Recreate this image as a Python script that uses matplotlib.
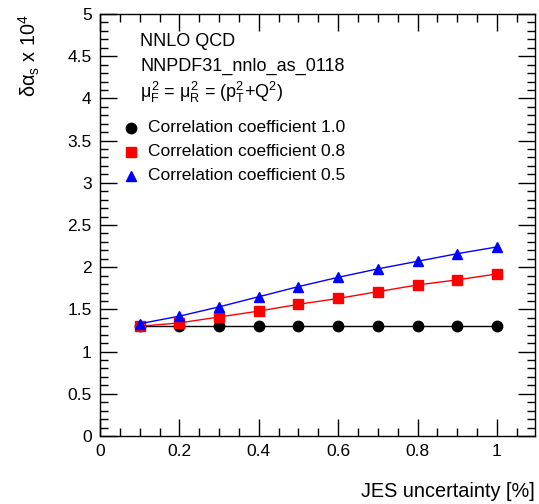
import matplotlib
matplotlib.use("Agg")
import matplotlib.pyplot as plt
from matplotlib.ticker import MultipleLocator

plt.rcParams['font.family'] = ['Liberation Sans', 'DejaVu Sans']
plt.rcParams['mathtext.fontset'] = 'custom'
plt.rcParams['mathtext.rm'] = 'Liberation Sans'
plt.rcParams['mathtext.it'] = 'Liberation Sans'
plt.rcParams['mathtext.bf'] = 'Liberation Sans:bold'

jes = [0.1, 0.2, 0.3, 0.4, 0.5, 0.6, 0.7, 0.8, 0.9, 1.0]
corr_10 = [1.30, 1.30, 1.30, 1.30, 1.30, 1.30, 1.30, 1.30, 1.30, 1.30]
corr_08 = [1.30, 1.34, 1.41, 1.48, 1.56, 1.63, 1.71, 1.79, 1.85, 1.92]
corr_05 = [1.33, 1.42, 1.53, 1.65, 1.77, 1.88, 1.98, 2.07, 2.16, 2.24]
labels = ["Correlation coefficient 1.0", "Correlation coefficient 0.8", "Correlation coefficient 0.5"]

fig = plt.figure(figsize=(5.39, 5.04), dpi=100)
ax = fig.add_axes([100/539, (504-436)/504, (535-100)/539, (436-14)/504])

fs = 12.5
fs_txt = 13
fs_leg = 12.5
fs_lab = 14.3
ax.plot(jes, corr_10, color='black', lw=1, marker='o', ms=7.5, mec='black', mfc='black')
ax.plot(jes, corr_08, color='red', lw=1, marker='s', ms=7, mec='red', mfc='red')
ax.plot(jes, corr_05, color='blue', lw=1, marker='^', ms=7.5, mec='blue', mfc='blue')

ax.set_xlim(0, 1.096)
ax.set_ylim(0, 5)
ax.xaxis.set_major_locator(MultipleLocator(0.2))
ax.xaxis.set_minor_locator(MultipleLocator(0.05))
ax.yaxis.set_major_locator(MultipleLocator(0.5))
ax.yaxis.set_minor_locator(MultipleLocator(0.1))
ax.set_xticks([0, 0.2, 0.4, 0.6, 0.8, 1.0])
ax.set_xticklabels(["0", "0.2", "0.4", "0.6", "0.8", "1"])
ax.set_yticks([0, 0.5, 1, 1.5, 2, 2.5, 3, 3.5, 4, 4.5, 5])
ax.set_yticklabels(["0", "0.5", "1", "1.5", "2", "2.5", "3", "3.5", "4", "4.5", "5"])
ax.tick_params(which='both', direction='in', top=True, right=True, labelsize=fs, width=1)
ax.tick_params(which='major', length=12, pad=6)
ax.tick_params(which='minor', length=6)
for s in ax.spines.values():
    s.set_linewidth(1)

ax.set_xlabel("JES uncertainty [%]", fontsize=fs_lab, loc='right', labelpad=16)
ax.set_ylabel(r"$\delta\alpha_{s}$ x 10$^{4}$", fontsize=fs_lab, loc='top', labelpad=18)

def px(x, y):
    return ((x - 100) / 435, (436 - y) / 422)

ax.text(*px(140, 42), "NNLO QCD", transform=ax.transAxes, fontsize=fs_txt, va='center')
ax.text(*px(140, 66), "NNPDF31_nnlo_as_0118", transform=ax.transAxes, fontsize=fs_txt, va='center')
ax.text(*px(140, 92), r"$\mu_{F}^{2}$ = $\mu_{R}^{2}$ = (p$_{T}^{2}$+Q$^{2}$)", transform=ax.transAxes, fontsize=fs_txt, va='center')

mk = [('o', 'black', 7.5), ('s', 'red', 7), ('^', 'blue', 7.5)]
rows = [128, 152, 176]
for (m, c, s), yy, lab in zip(mk, rows, labels):
    x0, y0 = px(131, yy)
    ax.plot([x0], [y0], marker=m, color=c, ms=s, transform=ax.transAxes, clip_on=False)
    ax.text(*px(148, yy), lab, transform=ax.transAxes, fontsize=fs_leg, va='center')

fig.savefig("out.png", dpi=100)
